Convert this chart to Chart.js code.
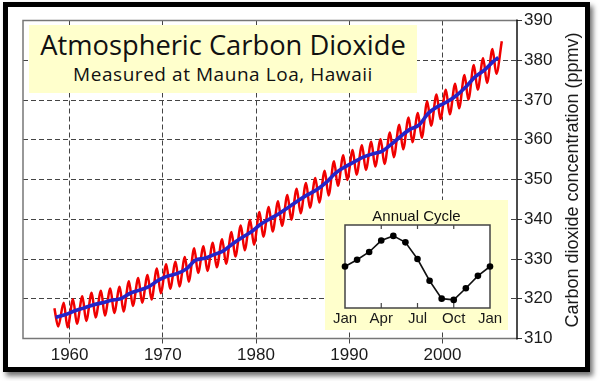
<!DOCTYPE html>
<html>
<head>
<meta charset="utf-8">
<script src="https://cdn.jsdelivr.net/npm/chart.js@4.4.0/dist/chart.umd.min.js"></script>
<style>
    html, body { margin: 0; padding: 0; background: #fff; }
    #wrap { position: relative; width: 600px; height: 381px; overflow: hidden; }
    #frame {
        position: absolute; left: 3px; top: 2px; width: 577px; height: 360px;
        border: 5px solid #000; background: #fff;
        box-shadow: 3px 4px 5px rgba(0, 0, 0, 0.55);
    }
    #main { position: absolute; left: 0; top: 0; }
    #title-box {
        position: absolute; left: 29px; top: 25px; width: 388px; height: 68px;
        background: #ffffcc;
    }
    .title-line {
        position: absolute; left: 0; width: 100%; text-align: center;
        font-family: 'Open Sans', sans-serif; color: #111; white-space: nowrap;
    }
    #title { top: 6px; font-size: 27.3px; line-height: 27.3px; }
    #subtitle { top: 39.5px; font-size: 19px; line-height: 19px; letter-spacing: 0.55px; }
    #y-title {
        position: absolute; left: 412px; top: 169px; width: 320px; height: 22px;
        line-height: 22px; text-align: center; white-space: nowrap;
        font-family: 'Liberation Sans', Arial, sans-serif; font-size: 18px; color: #1a1a1a;
        transform: rotate(-90deg);
    }
    #inset {
        position: absolute; left: 325px; top: 200px; width: 183px; height: 130px;
        background: #ffffcc;
    }
    #inset-title {
        position: absolute; left: 0; top: 6.5px; width: 100%; line-height: 18px;
        text-align: center; font-family: 'Liberation Sans', Arial, sans-serif;
        font-size: 15px; color: #111;
    }
    #cycle { position: absolute; left: 0; top: 0; }
</style>
</head>
<body>
<div id="wrap">
    <div id="frame"></div>
    <canvas id="main" width="600" height="381"></canvas>
    <div id="title-box">
        <div id="title" class="title-line">Atmospheric Carbon Dioxide</div>
        <div id="subtitle" class="title-line">Measured at Mauna Loa, Hawaii</div>
    </div>
    <div id="y-title">Carbon dioxide concentration (ppmv)</div>
    <div id="inset">
        <canvas id="cycle" width="183" height="130"></canvas>
        <div id="inset-title">Annual Cycle</div>
    </div>
</div>
<script>
// Mauna Loa record (ppmv)
const firstYear = 1958;

// seasonal maximum each year (May)
const mayPeaks = [
    317.6, 319.0, 319.9, 320.6, 321.5, 322.0, 322.6, 323.0, 324.4, 325.2,
    326.0, 327.6, 328.7, 329.3, 330.5, 332.7, 333.2, 334.1, 335.0, 336.8,
    338.4, 339.8, 341.8, 343.1, 344.5, 346.1, 347.7, 349.1, 350.4, 352.2,
    354.6, 356.1, 357.4, 358.6, 359.5, 360.1, 361.8, 363.8, 365.6, 366.7,
    369.7, 371.4, 372.6, 374.1, 376.3, 378.8, 380.5, 382.8, 384.8
];

// seasonal minimum each year (October)
const octTroughs = [
    313.0, 312.8, 313.7, 314.4, 315.3, 315.8, 316.4, 316.8, 318.2, 319.0,
    319.8, 321.4, 322.5, 323.1, 324.3, 326.5, 327.0, 327.9, 328.8, 330.6,
    332.2, 333.6, 335.6, 336.9, 338.3, 339.9, 341.5, 342.9, 344.2, 346.0,
    348.4, 349.9, 351.2, 352.4, 353.3, 353.9, 355.6, 357.6, 359.4, 360.5,
    363.5, 365.2, 366.4, 367.9, 370.1, 372.6, 374.3, 376.6
];

// smoothed trend, one value per year (mid-year)
const annualMeans = [
    315.3, 315.97, 316.91, 317.64, 318.45, 318.99, 319.62, 320.04, 321.38, 322.16,
    323.04, 324.62, 325.68, 326.32, 327.45, 329.68, 330.18, 331.11, 332.04, 333.83,
    335.40, 336.84, 338.75, 340.11, 341.45, 343.05, 344.65, 346.12, 347.42, 349.19,
    351.57, 353.12, 354.39, 355.61, 356.45, 357.10, 358.83, 360.82, 362.61, 363.73,
    366.70, 368.38, 369.55, 371.14, 373.28, 375.80, 377.52, 379.80
];
const trendLast = { x: 2006.0, y: 380.7 };

const yearTicks = [1960, 1970, 1980, 1990, 2000];
const ppmTicks = [310, 320, 330, 340, 350, 360, 370, 380, 390];

// annual cycle inset (ppmv relative to the yearly mean)
const cycleMonths = ['Jan', 'Feb', 'Mar', 'Apr', 'May', 'Jun', 'Jul', 'Aug', 'Sep', 'Oct', 'Nov', 'Dec', 'Jan'];
const cycleValues = [0.0, 0.65, 1.4, 2.5, 2.95, 2.33, 0.72, -1.37, -3.1, -3.22, -2.1, -0.9, 0.0];
const cycleTicks = [0, 3, 6, 9, 12];

const MAY = 0.37;
const OCT = 0.78;

const monthlyPoints = [];
mayPeaks.forEach((v, i) => {
    monthlyPoints.push({ x: firstYear + i + MAY, y: v });
    if (i < octTroughs.length) {
        monthlyPoints.push({ x: firstYear + i + OCT, y: octTroughs[i] });
    }
});

const trendPoints = annualMeans.map((v, i) => ({ x: firstYear + i + 0.5, y: v }));
trendPoints.push(trendLast);

const tickFont = { family: "'Liberation Sans', Arial, sans-serif", size: 17 };

// gray plot frame, black axis on the right
const plotFrame = {
    id: 'plotFrame',
    beforeDatasetsDraw(chart) {
        const { ctx, chartArea: a } = chart;
        ctx.save();
        ctx.lineWidth = 1.5;
        ctx.strokeStyle = '#777';
        ctx.beginPath();
        ctx.moveTo(a.right, a.top);
        ctx.lineTo(a.left, a.top);
        ctx.lineTo(a.left, a.bottom);
        ctx.lineTo(a.right, a.bottom);
        ctx.stroke();
        ctx.strokeStyle = '#111';
        ctx.beginPath();
        ctx.moveTo(a.right, a.top - 1);
        ctx.lineTo(a.right, a.bottom + 1);
        ctx.stroke();
        ctx.restore();
    }
};

new Chart(document.getElementById('main'), {
    type: 'line',
    data: {
        datasets: [
            {
                label: 'Trend',
                data: trendPoints,
                borderColor: '#2424c8',
                borderWidth: 3.6,
                pointRadius: 0,
                cubicInterpolationMode: 'monotone'
            },
            {
                label: 'Monthly',
                data: monthlyPoints,
                borderColor: '#f00000',
                borderWidth: 2.5,
                pointRadius: 0,
                cubicInterpolationMode: 'monotone'
            }
        ]
    },
    options: {
        responsive: false,
        animation: false,
        layout: { padding: { left: 23, top: 20.5, right: 0, bottom: 0 } },
        plugins: {
            legend: { display: false },
            tooltip: { enabled: false }
        },
        scales: {
            x: {
                type: 'linear',
                min: 1955,
                max: 2008,
                afterBuildTicks: (s) => { s.ticks = yearTicks.map(v => ({ value: v })); },
                afterFit: (s) => { s.height = 42.5; },
                grid: { color: '#444', lineWidth: 1, tickLength: 5, tickColor: '#444' },
                border: { display: false, dash: [5, 3] },
                ticks: { font: tickFont, color: '#1a1a1a', padding: 2, maxRotation: 0, callback: (v) => String(v) }
            },
            y: {
                position: 'right',
                min: 310,
                max: 390,
                afterBuildTicks: (s) => { s.ticks = ppmTicks.map(v => ({ value: v })); },
                afterFit: (s) => { s.width = 83; },
                grid: {
                    color: (c) => (c.tick && (c.tick.value === 310 || c.tick.value === 390)) ? 'rgba(0,0,0,0)' : '#444',
                    lineWidth: 1,
                    tickLength: 5,
                    tickColor: '#333'
                },
                border: { display: false, dash: [5, 3] },
                ticks: { font: tickFont, color: '#1a1a1a', padding: 2, callback: (v) => String(v) }
            }
        }
    },
    plugins: [plotFrame]
});

// inset frame with inward ticks
const insetFrame = {
    id: 'insetFrame',
    beforeDatasetsDraw(chart) {
        const { ctx, chartArea: a } = chart;
        const xs = chart.scales.x;
        ctx.save();
        ctx.fillStyle = '#fff';
        ctx.fillRect(a.left, a.top, a.right - a.left, a.bottom - a.top);
        ctx.strokeStyle = '#444';
        ctx.lineWidth = 1.5;
        ctx.strokeRect(a.left, a.top, a.right - a.left, a.bottom - a.top);
        ctx.lineWidth = 1.2;
        ctx.beginPath();
        cycleTicks.slice(1, -1).forEach(v => {
            const px = xs.getPixelForValue(v);
            ctx.moveTo(px, a.bottom);
            ctx.lineTo(px, a.bottom - 5);
            ctx.moveTo(px, a.top);
            ctx.lineTo(px, a.top + 4);
        });
        ctx.stroke();
        ctx.restore();
    }
};

new Chart(document.getElementById('cycle'), {
    type: 'line',
    data: {
        datasets: [{
            data: cycleValues.map((v, i) => ({ x: i, y: v })),
            borderColor: '#111',
            borderWidth: 1.6,
            pointRadius: 3.3,
            pointBackgroundColor: '#000',
            pointBorderColor: '#000',
            pointBorderWidth: 0,
            tension: 0,
            clip: false
        }]
    },
    options: {
        responsive: false,
        animation: false,
        layout: { padding: { left: 20, top: 25, right: 18, bottom: 0 } },
        plugins: {
            legend: { display: false },
            tooltip: { enabled: false }
        },
        scales: {
            x: {
                type: 'linear',
                min: 0,
                max: 12,
                afterBuildTicks: (s) => { s.ticks = cycleTicks.map(v => ({ value: v })); },
                afterFit: (s) => { s.height = 22; },
                grid: { display: false, drawTicks: false },
                border: { display: false },
                ticks: {
                    font: { family: "'Liberation Sans', Arial, sans-serif", size: 15 },
                    color: '#1a1a1a',
                    padding: 2,
                    maxRotation: 0,
                    autoSkip: false,
                    callback: (v) => cycleMonths[v]
                }
            },
            y: { display: false, min: -4, max: 4 }
        }
    },
    plugins: [insetFrame]
});
</script>
</body>
</html>
